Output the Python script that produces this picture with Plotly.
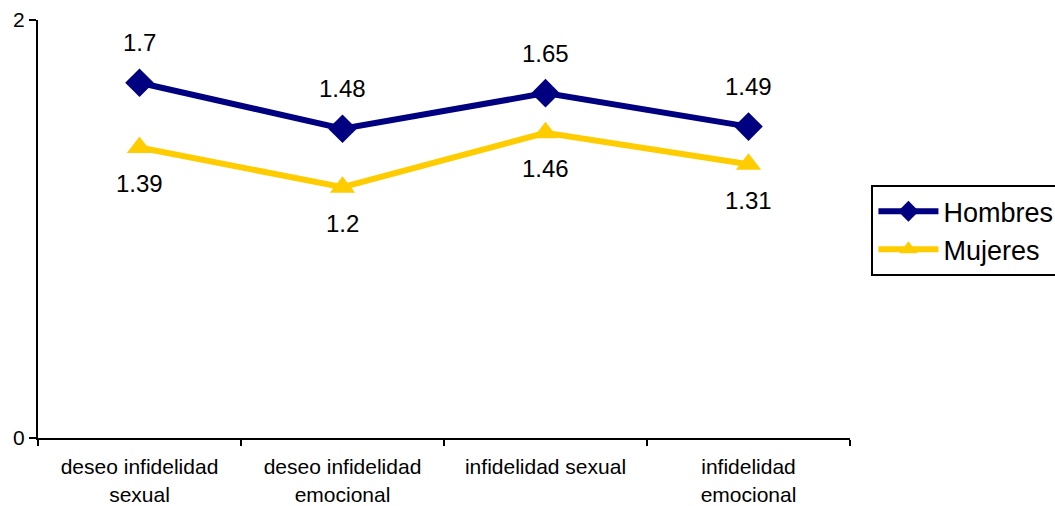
import plotly.graph_objects as go

categories = ["deseo infidelidad<br>sexual", "deseo infidelidad<br>emocional",
              "infidelidad sexual", "infidelidad<br>emocional"]
hombres = [1.7, 1.48, 1.65, 1.49]
mujeres = [1.39, 1.2, 1.46, 1.31]

FONT = "Liberation Sans, Arial, sans-serif"

fig = go.Figure()
fig.add_trace(go.Scatter(
    x=categories, y=hombres, name="Hombres", mode="lines+markers",
    line=dict(color="#000080", width=6),
    marker=dict(symbol="diamond", size=22, color="#000080"),
))
fig.add_trace(go.Scatter(
    x=categories, y=mujeres, name="Mujeres", mode="lines+markers",
    line=dict(color="#FFCC00", width=6),
    marker=dict(symbol="triangle-up", size=22, color="#FFCC00"),
))

# value labels: Hombres above the points, Mujeres below
for cat, v in zip(categories, hombres):
    fig.add_annotation(x=cat, y=v, text=str(v), showarrow=False, yshift=40,
                       font=dict(size=24, color="black", family=FONT))
for cat, v in zip(categories, mujeres):
    fig.add_annotation(x=cat, y=v, text=str(v), showarrow=False, yshift=-36,
                       font=dict(size=24, color="black", family=FONT))

fig.update_layout(
    width=1055, height=506,
    margin=dict(l=38, r=205, t=20, b=68, autoexpand=False),
    paper_bgcolor="white", plot_bgcolor="white",
    font=dict(family=FONT, color="black"),
    showlegend=True,
    legend=dict(
        xref="container", yref="container",
        x=0.826, y=0.634, xanchor="left", yanchor="top",
        bordercolor="black", borderwidth=2,
        font=dict(size=27, family=FONT),
        tracegroupgap=0, itemwidth=60,
    ),
)
fig.update_xaxes(
    type="category", range=[-0.5, 3.5], automargin=False,
    showline=True, linecolor="black", linewidth=2,
    ticks="outside", tickson="boundaries", ticklen=6, tickcolor="black", tickwidth=2,
    ticklabelstandoff=9,
    showgrid=False, tickfont=dict(size=21, family=FONT),
)
fig.update_yaxes(
    range=[0, 2], tickvals=[0, 2], ticktext=["0", "2"], automargin=False,
    showline=True, linecolor="black", linewidth=2,
    ticks="outside", ticklen=7, tickcolor="black", tickwidth=2,
    showgrid=False, zeroline=False, tickfont=dict(size=21, family=FONT),
)

fig.write_html("out.html")
